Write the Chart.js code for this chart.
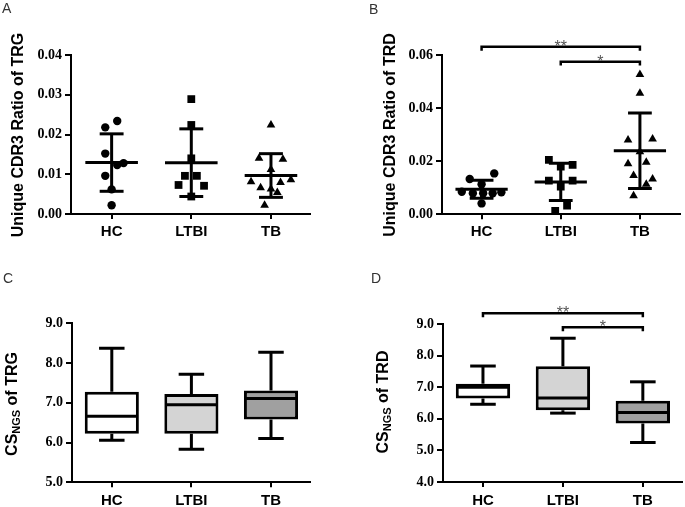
<!DOCTYPE html>
<html>
<head>
<meta charset="utf-8">
<script src="https://cdn.jsdelivr.net/npm/chart.js@4.4.1/dist/chart.umd.min.js"></script>
<style>
html,body{margin:0;padding:0;background:#fff;}
#wrap{position:relative;width:685px;height:507px;overflow:hidden;background:#fff;}
canvas{position:absolute;left:0;top:0;}
</style>
</head>
<body>
<div id="wrap">
<canvas id="cA" width="685" height="507"></canvas>
<canvas id="cB" width="685" height="507"></canvas>
<canvas id="cC" width="685" height="507"></canvas>
<canvas id="cD" width="685" height="507"></canvas>
</div>
<script>
// ---------------- DATA ----------------
const categories = ['HC', 'LTBI', 'TB'];

// Panel A: Unique CDR3 ratio of TRG
const trgHC   = [0.0234, 0.0218, 0.0152, 0.0123, 0.0128, 0.0096, 0.0062, 0.0022];
const trgLTBI = [0.0289, 0.0224, 0.0140, 0.0096, 0.0096, 0.0073, 0.0071, 0.0044];
const trgTB   = [0.0224, 0.0140, 0.0138, 0.0112, 0.0081, 0.0086, 0.0066, 0.0079, 0.0063, 0.0054, 0.0022];

// Panel B: Unique CDR3 ratio of TRD
const trdHC   = [0.0154, 0.0133, 0.0113, 0.0085, 0.0079, 0.0079, 0.0079, 0.0083, 0.0041];
const trdLTBI = [0.0205, 0.0180, 0.0186, 0.0127, 0.0127, 0.0104, 0.0033, 0.0013];
const trdTB   = [0.0527, 0.0456, 0.0280, 0.0284, 0.0236, 0.0190, 0.0196, 0.0146, 0.0133, 0.0113, 0.0070];

// Horizontal scatter spread of the dots (category units)
const trgHCJitter   = [0.07, -0.08, -0.08, 0.07, 0.15, -0.08, 0, 0];
const trgLTBIJitter = [0, 0, 0, -0.08, 0.07, -0.16, 0.16, 0];
const trgTBJitter   = [0, -0.15, 0.15, 0, -0.25, 0.25, -0.13, 0.12, 0, 0.08, -0.08];
const trdHCJitter   = [0.16, -0.15, 0, -0.25, -0.11, 0.02, 0.14, 0.25, 0];
const trdLTBIJitter = [-0.15, 0, 0.15, -0.15, 0.15, 0, 0.08, -0.07];
const trdTBJitter   = [0, 0, -0.15, 0.16, 0, -0.15, 0.08, -0.08, 0.16, 0.08, -0.08];

// Panel C: CS_NGS of TRG (box plots)
const csTrgMin = [6.06, 5.83, 6.10];
const csTrgQ1  = [6.22, 6.22, 6.58];
const csTrgMed = [6.66, 6.95, 7.11];
const csTrgQ3  = [7.28, 7.22, 7.31];
const csTrgMax = [8.37, 7.72, 8.27];

// Panel D: CS_NGS of TRD (box plots)
const csTrdMin = [6.46, 6.18, 5.25];
const csTrdQ1  = [6.64, 6.27, 5.85];
const csTrdMed = [7.00, 6.66, 6.20];
const csTrdQ3  = [7.11, 7.66, 6.57];
const csTrdMax = [7.67, 8.55, 7.17];

// Tick values
const yTicksA = [0, 0.01, 0.02, 0.03, 0.04];
const yTicksB = [0, 0.02, 0.04, 0.06];
const yTicksC = [5, 6, 7, 8, 9];
const yTicksD = [4, 5, 6, 7, 8, 9];

// Significance brackets
const sigFrom   = [0, 1];
const sigTo     = [2, 2];
const sigLabels = ['**', '*'];
const sigLevelB = [0.0631, 0.0575];
const sigLevelD = [9.34, 8.895];

// ---------------- HELPERS ----------------
const SANS = '"Liberation Sans", Arial, Helvetica, sans-serif';
const SERIF = '"Liberation Serif", "Times New Roman", serif';

function mean(a) { return a.reduce((s, v) => s + v, 0) / a.length; }
function stdev(a) { const m = mean(a); return Math.sqrt(a.reduce((s, v) => s + (v - m) * (v - m), 0) / (a.length - 1)); }

function xScale(min, max, labelPad, axisH) {
  return {
    type: 'linear', min: min, max: max, offset: false,
    afterBuildTicks: s => { s.ticks = categories.map((c, i) => ({ value: i })); },
    afterFit: s => { s.height = axisH; },
    ticks: {
      callback: v => categories[v],
      font: { family: SANS, size: 15, weight: 'bold' },
      color: '#000', padding: labelPad, maxRotation: 0, autoSkip: false
    },
    grid: { display: true, drawOnChartArea: false, drawTicks: true, tickLength: 5, color: '#000', lineWidth: 2, offset: false },
    border: { display: true, color: '#000', width: 2 }
  };
}

function yScale(min, max, ticks, decimals) {
  return {
    type: 'linear', min: min, max: max,
    afterBuildTicks: s => { s.ticks = ticks.map(v => ({ value: v })); },
    afterFit: s => { s.width = 45; },
    ticks: {
      callback: v => Number(v).toFixed(decimals),
      font: { family: SERIF, size: 14, weight: 'bold' },
      color: '#000', padding: 3
    },
    grid: { display: true, drawOnChartArea: false, drawTicks: true, tickLength: 6, color: '#000', lineWidth: 2 },
    border: { display: true, color: '#000', width: 2 }
  };
}

function seg(points, width, order, clip) {
  return {
    type: 'line', data: points, borderColor: '#000', borderWidth: width,
    pointRadius: 0, pointHoverRadius: 0, fill: false, tension: 0, spanGaps: false,
    order: order, clip: clip === false ? false : undefined, borderJoinStyle: 'miter'
  };
}

function scatterSets(groups, jitters, styles, radii) {
  const sets = [];
  groups.forEach((vals, i) => {
    sets.push({
      type: 'scatter',
      data: vals.map((v, k) => ({ x: i + jitters[i][k], y: v })),
      pointStyle: styles[i], pointRadius: radii[i], pointHoverRadius: radii[i],
      backgroundColor: '#000', borderColor: '#000', borderWidth: 0, order: 3
    });
    const m = mean(vals), sd = stdev(vals);
    sets.push(seg([{ x: i, y: m - sd }, { x: i, y: m + sd }], 3, 1));
    sets.push(seg([{ x: i - 0.15, y: m + sd }, { x: i + 0.15, y: m + sd }], 3, 1));
    sets.push(seg([{ x: i - 0.15, y: m - sd }, { x: i + 0.15, y: m - sd }], 3, 1));
    sets.push(seg([{ x: i - 0.33, y: m }, { x: i + 0.33, y: m }], 3, 0));
  });
  return sets;
}

function boxSets(mins, q1s, meds, q3s, maxs, fills) {
  const sets = [{
    type: 'bar',
    data: categories.map((c, i) => ({ x: i, y: [q1s[i], q3s[i]] })),
    backgroundColor: fills, borderColor: '#000', borderWidth: 3, borderSkipped: false,
    barPercentage: 0.68, categoryPercentage: 1, order: 2
  }];
  categories.forEach((c, i) => {
    sets.push(seg([{ x: i, y: q3s[i] }, { x: i, y: maxs[i] }], 3, 1));
    sets.push(seg([{ x: i - 0.16, y: maxs[i] }, { x: i + 0.16, y: maxs[i] }], 3, 1));
    sets.push(seg([{ x: i, y: q1s[i] }, { x: i, y: mins[i] }], 3, 1));
    sets.push(seg([{ x: i - 0.16, y: mins[i] }, { x: i + 0.16, y: mins[i] }], 3, 1));
    sets.push(seg([{ x: i - 0.33, y: meds[i] }, { x: i + 0.33, y: meds[i] }], 3, 0));
  });
  return sets;
}

function bracketSets(levels, drop) {
  return levels.map((lv, k) => seg([
    { x: sigFrom[k], y: lv - drop }, { x: sigFrom[k], y: lv },
    { x: sigTo[k], y: lv }, { x: sigTo[k], y: lv - drop }
  ], 2.5, 0, false));
}

function textPlugin(letter, lx, ly, titleParts, tx, ty, levels) {
  return {
    id: 'panelText',
    afterDraw(chart) {
      const ctx = chart.ctx;
      ctx.save();
      ctx.fillStyle = '#333';
      ctx.font = '14px ' + SANS;
      ctx.textAlign = 'left';
      ctx.textBaseline = 'alphabetic';
      ctx.fillText(letter, lx, ly);
      ctx.fillStyle = '#000';
      let total = 0;
      titleParts.forEach(p => { ctx.font = 'bold ' + p.size + 'px ' + SANS; total += ctx.measureText(p.t).width; });
      ctx.translate(tx, ty);
      ctx.rotate(-Math.PI / 2);
      let cx = -total / 2;
      titleParts.forEach(p => {
        ctx.font = 'bold ' + p.size + 'px ' + SANS;
        ctx.fillText(p.t, cx, p.dy || 0);
        cx += ctx.measureText(p.t).width;
      });
      ctx.restore();
      if (levels) {
        const xs = chart.scales.x, ys = chart.scales.y;
        ctx.save();
        ctx.fillStyle = '#555';
        ctx.font = '16px ' + SANS;
        ctx.textAlign = 'center';
        ctx.textBaseline = 'alphabetic';
        levels.forEach((lv, k) => {
          const px = xs.getPixelForValue((sigFrom[k] + sigTo[k]) / 2);
          const py = ys.getPixelForValue(lv);
          ctx.fillText(sigLabels[k], px, py + 5);
        });
        ctx.restore();
      }
    }
  };
}

function makeChart(id, type, datasets, area, xs, ys, plugin) {
  const padBottom = 507 - area.bottom - xs.__h;
  return new Chart(document.getElementById(id), {
    type: type,
    data: { datasets: datasets },
    options: {
      responsive: false, animation: false, events: [],
      devicePixelRatio: 1,
      layout: { padding: { left: area.left - 45, top: area.top, right: 685 - area.right, bottom: padBottom } },
      plugins: { legend: { display: false }, tooltip: { enabled: false }, title: { display: false } },
      scales: { x: xs, y: ys }
    },
    plugins: [plugin]
  });
}

function withH(scale, h) { scale.__h = h; return scale; }

// ---------------- PANELS ----------------
const MARKERS = ['circle', 'rect', 'triangle'];
const MARKER_R = [4.2, 5.5, 5];

makeChart('cA', 'scatter',
  scatterSets([trgHC, trgLTBI, trgTB], [trgHCJitter, trgLTBIJitter, trgTBJitter], MARKERS, MARKER_R),
  { left: 71, top: 55, right: 310, bottom: 214 },
  withH(xScale(-0.51, 2.49, 4, 36), 36), yScale(0, 0.04, yTicksA, 2),
  textPlugin('A', 2, 13, [{ t: 'Unique CDR3 Ratio of TRG', size: 16 }], 22.5, 135, null));

makeChart('cB', 'scatter',
  scatterSets([trdHC, trdLTBI, trdTB], [trdHCJitter, trdLTBIJitter, trdTBJitter], MARKERS, MARKER_R)
    .concat(bracketSets(sigLevelB, 0.0015)),
  { left: 442, top: 55, right: 682, bottom: 214.3 },
  withH(xScale(-0.5, 2.5, 4, 36), 36), yScale(0, 0.06, yTicksB, 2),
  textPlugin('B', 369, 14, [{ t: 'Unique CDR3 Ratio of TRD', size: 16 }], 394.5, 135, sigLevelB));

const BOX_FILLS = ['#ffffff', '#d4d4d4', '#a0a0a0'];

makeChart('cC', 'bar',
  boxSets(csTrgMin, csTrgQ1, csTrgMed, csTrgQ3, csTrgMax, BOX_FILLS),
  { left: 72, top: 323.3, right: 310, bottom: 482.3 },
  withH(xScale(-0.5, 2.49, 5, 24.7), 24.7), yScale(5, 9, yTicksC, 1),
  textPlugin('C', 3, 283, [{ t: 'CS', size: 16 }, { t: 'NGS', size: 11, dy: 3 }, { t: ' of TRG', size: 16 }], 17, 404, null));

makeChart('cD', 'bar',
  boxSets(csTrdMin, csTrdQ1, csTrdMed, csTrdQ3, csTrdMax, BOX_FILLS).concat(bracketSets(sigLevelD, 0.127)),
  { left: 443, top: 324, right: 682, bottom: 482 },
  withH(xScale(-0.5, 2.49, 5, 25), 25), yScale(4, 9, yTicksD, 1),
  textPlugin('D', 371, 283, [{ t: 'CS', size: 16 }, { t: 'NGS', size: 11, dy: 3 }, { t: ' of TRD', size: 16 }], 388, 402, sigLevelD));
</script>
</body>
</html>
